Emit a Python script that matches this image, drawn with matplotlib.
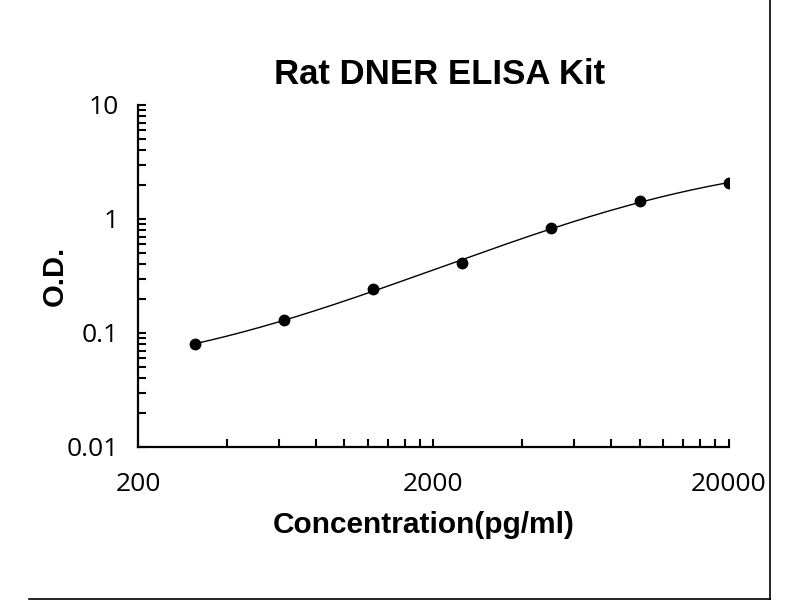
import numpy as np
import matplotlib
matplotlib.use("Agg")
import matplotlib.pyplot as plt
from matplotlib.ticker import FixedLocator, NullFormatter
from matplotlib.lines import Line2D

# standard curve data
conc = [312.5, 625, 1250, 2500, 5000, 10000, 20000]
od = [0.080, 0.130, 0.243, 0.410, 0.830, 1.45, 2.05]

x_ticks = [200, 2000, 20000]
x_tick_labels = ["200", "2000", "20000"]
y_ticks = [0.01, 0.1, 1, 10]
y_tick_labels = ["0.01", "0.1", "1", "10"]

tick_font = "Open Sans"
label_font = "Liberation Sans"


def four_pl(x, p):
    a, b, c, d = p
    return d + (a - d) / (1.0 + (x / c) ** b)


def fit_four_pl(x, y, p0, n_iter=500):
    # small Levenberg-Marquardt on log residuals
    p = np.array(p0, dtype=float)
    lam = 1e-2

    def resid(q):
        f = four_pl(x, q)
        if np.any(f <= 0) or q[2] <= 0:
            return None
        return np.log10(f) - np.log10(y)

    r = resid(p)
    for _ in range(n_iter):
        J = np.zeros((len(x), 4))
        for i in range(4):
            dp = np.zeros(4)
            dp[i] = 1e-6 * max(abs(p[i]), 1e-3)
            rr = resid(p + dp)
            J[:, i] = (rr - r) / dp[i]
        A = J.T @ J
        g = J.T @ r
        step = np.linalg.solve(A + lam * np.diag(np.diag(A) + 1e-12), -g)
        r_new = resid(p + step)
        if r_new is not None and np.sum(r_new ** 2) < np.sum(r ** 2):
            p = p + step
            r = r_new
            lam *= 0.5
        else:
            lam *= 4
    return p


x_arr = np.array(conc, dtype=float)
y_arr = np.array(od, dtype=float)
params = fit_four_pl(x_arr, y_arr, [0.03, 1.0, 8000.0, 3.0])

fig = plt.figure(figsize=(8, 6), dpi=100)
ax = fig.add_axes([0.1725, 0.255, 0.7385, 0.57])

fx = np.logspace(np.log10(conc[0]), np.log10(conc[-1]), 300)
ax.plot(fx, four_pl(fx, params), color="black", lw=1.0)
ax.plot(conc, od, "o", color="black", ms=7.5)

ax.set_xscale("log")
ax.set_yscale("log")
ax.set_xlim(200, 20000)
ax.set_ylim(0.01, 10)

ax.set_xticks(x_ticks)
ax.set_xticklabels(x_tick_labels, fontfamily=tick_font, fontsize=19)
ax.set_yticks(y_ticks)
ax.set_yticklabels(y_tick_labels, fontfamily=tick_font, fontsize=19)

x_minor = [200 * k * d for d in (1, 10) for k in range(2, 10)]
ax.xaxis.set_minor_locator(FixedLocator(x_minor))
ax.xaxis.set_minor_formatter(NullFormatter())

for side in ("top", "right"):
    ax.spines[side].set_visible(False)
for side in ("left", "bottom"):
    ax.spines[side].set_linewidth(1.6)

ax.tick_params(which="both", direction="in", width=1.5, length=6)
ax.tick_params(axis="x", which="major", pad=18)
ax.tick_params(axis="y", which="major", pad=14)

ax.set_title("Rat DNER ELISA Kit", fontfamily=label_font, fontweight="bold",
             fontsize=25, pad=15, x=0.511)
ax.set_xlabel("Concentration(pg/ml)", fontfamily=label_font,
              fontweight="bold", fontsize=21.5, labelpad=10)
ax.xaxis.label.set_x(0.483)
ax.set_ylabel("O.D.", fontfamily=label_font, fontweight="bold",
              fontsize=21, labelpad=-2)

# picture frame lines (right and bottom)
fig.add_artist(Line2D([0.9625, 0.9625], [0.0, 1.0], color="black", lw=1.2,
                      transform=fig.transFigure))
fig.add_artist(Line2D([0.036, 0.9625], [0.002, 0.002], color="black", lw=1.2,
                      transform=fig.transFigure))

fig.savefig("out.png", dpi=100)
